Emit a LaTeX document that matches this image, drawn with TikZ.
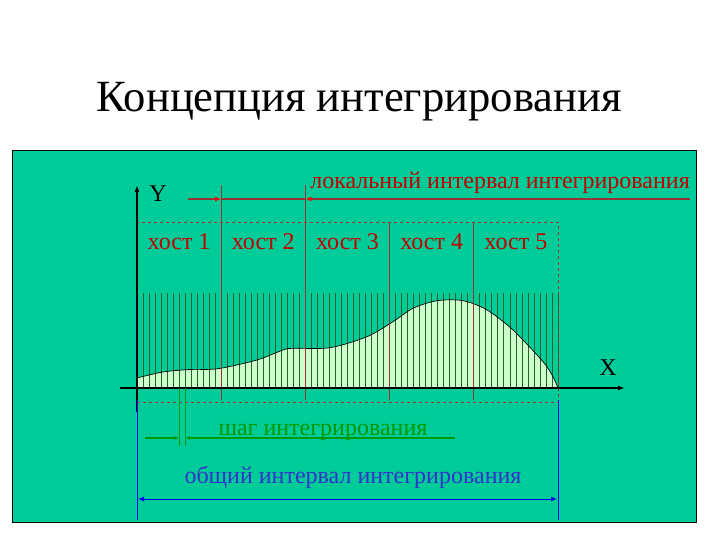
\documentclass[tikz,border=0pt]{standalone}
\usepackage{fontspec}
\setmainfont{Liberation Serif}
\usetikzlibrary{arrows.meta}

\definecolor{bgteal}{HTML}{00CC99}
\definecolor{hostred}{HTML}{C00000}
\definecolor{locbrown}{HTML}{993333}
\definecolor{hatchgreen}{HTML}{2A5E2A}
\definecolor{lightfill}{HTML}{CCFFCC}
\definecolor{stepgreen}{HTML}{009900}
\definecolor{totalblue}{HTML}{0000FF}
\definecolor{totaltext}{HTML}{3333CC}

\tikzset{
  lbl/.style={inner sep=0pt,font=\fontsize{24}{26}\selectfont},
  hostlabel/.style={lbl,text=hostred,anchor=base},
  hostline/.style={locbrown,line width=0.8pt},
  hatch/.style={hatchgreen,line width=0.75pt},
  locline/.style={locbrown,line width=1.6pt},
  stepline/.style={stepgreen,line width=1.2pt},
  totalline/.style={totalblue,line width=1pt}
}

\begin{document}
\begin{tikzpicture}[x=1pt,y=-1pt]
\useasboundingbox[fill=white] (0,0) rectangle (720,540);
\fill[bgteal,draw=black,line width=1pt] (12,151) rectangle (696,522);

\node[inner sep=0pt,anchor=base,font=\fontsize{44.6}{48}\selectfont] (title) at (359,112) {Концепция интегрирования};

% area under the curve
\fill[lightfill] (137,388) -- plot[smooth] coordinates {(137,378) (163,372) (190,369.5) (218,368.7) (257,360) (283,350) (293,348.3) (330,347.7) (367,336.7) (393,321.7) (413,308.3) (437,300.7) (463,300.7) (487,310) (513,330) (543,361.7) (553,376.7) (558,388)} -- cycle;
\foreach \i in {0,...,70}
  \draw[hatch] (137+\i*6.014,293) -- (137+\i*6.014,388);
\draw[black,line width=0.7pt] plot[smooth] coordinates {(137,378) (163,372) (190,369.5) (218,368.7) (257,360) (283,350) (293,348.3) (330,347.7) (367,336.7) (393,321.7) (413,308.3) (437,300.7) (463,300.7) (487,310) (513,330) (543,361.7) (553,376.7) (558,388)};

% hosts
\draw[locbrown,dashed,line width=0.8pt] (137,222) rectangle (558,402);
\foreach \k in {1,...,4}
  \draw[hostline] (137+84.2*\k,222) -- (137+84.2*\k,400);
\draw[hostline] (221.2,185) -- (221.2,222) (305.4,185) -- (305.4,222);
\foreach \k in {1,...,5}
  \node[hostlabel] (host\k) at (137+84.2*\k-42.1,249) {хост \k};

% axes
\coordinate (ybot) at (137,412);
\coordinate (ytop) at (137,185);
\coordinate (xleft) at (120,388);
\coordinate (xright) at (625,388);
\draw[black,line width=1.4pt,-{Latex[length=7pt,width=5pt]}] (ybot) -- (ytop);
\draw[black,line width=1.4pt,-{Latex[length=7pt,width=5pt]}] (xleft) -- (xright);
\node[lbl,anchor=base] (ylab) at (158,202) {Y};
\node[lbl,anchor=base] (xlab) at (608,375) {X};

% local interval
\coordinate (loc0) at (188,199);
\coordinate (loc1) at (221.2,199);
\coordinate (loc2) at (305.4,199);
\coordinate (loc3) at (690,199);
\draw[locline,-{Latex[red,length=6pt,width=5pt]}] (loc0) -- (loc1);
\draw[locline] (loc1) -- (loc2);
\draw[locline,-{Latex[red,length=6pt,width=5pt]}] (loc3) -- (loc2);
\node[lbl,anchor=base east,text=hostred] (loclabel) at (690,189) {локальный интервал интегрирования};

% step
\coordinate (st0) at (145,438);
\coordinate (st1) at (179.1,438);
\coordinate (st2) at (185.1,438);
\coordinate (st3) at (455,438);
\draw[stepgreen,line width=0.6pt] (179.1,388) -- (179.1,446) (185.1,388) -- (185.1,446);
\draw[stepline,-{Latex[length=5pt,width=4pt]}] (st0) -- (st1);
\draw[stepline,-{Latex[length=5pt,width=4pt]}] (st3) -- (st2);
\node[lbl,anchor=base,text=stepgreen] (steplabel) at (323,435) {шаг интегрирования};

% total interval
\draw[totalline] (137,400) -- (137,520) (558,400) -- (558,520);
\coordinate (tot0) at (138,499);
\coordinate (tot1) at (557,499);
\draw[totalline,{Latex[length=6pt,width=5pt]}-{Latex[length=6pt,width=5pt]}] (tot0) -- (tot1);
\node[lbl,anchor=base,text=totaltext] (totlabel) at (353,483) {общий интервал интегрирования};
\end{tikzpicture}
\end{document}
